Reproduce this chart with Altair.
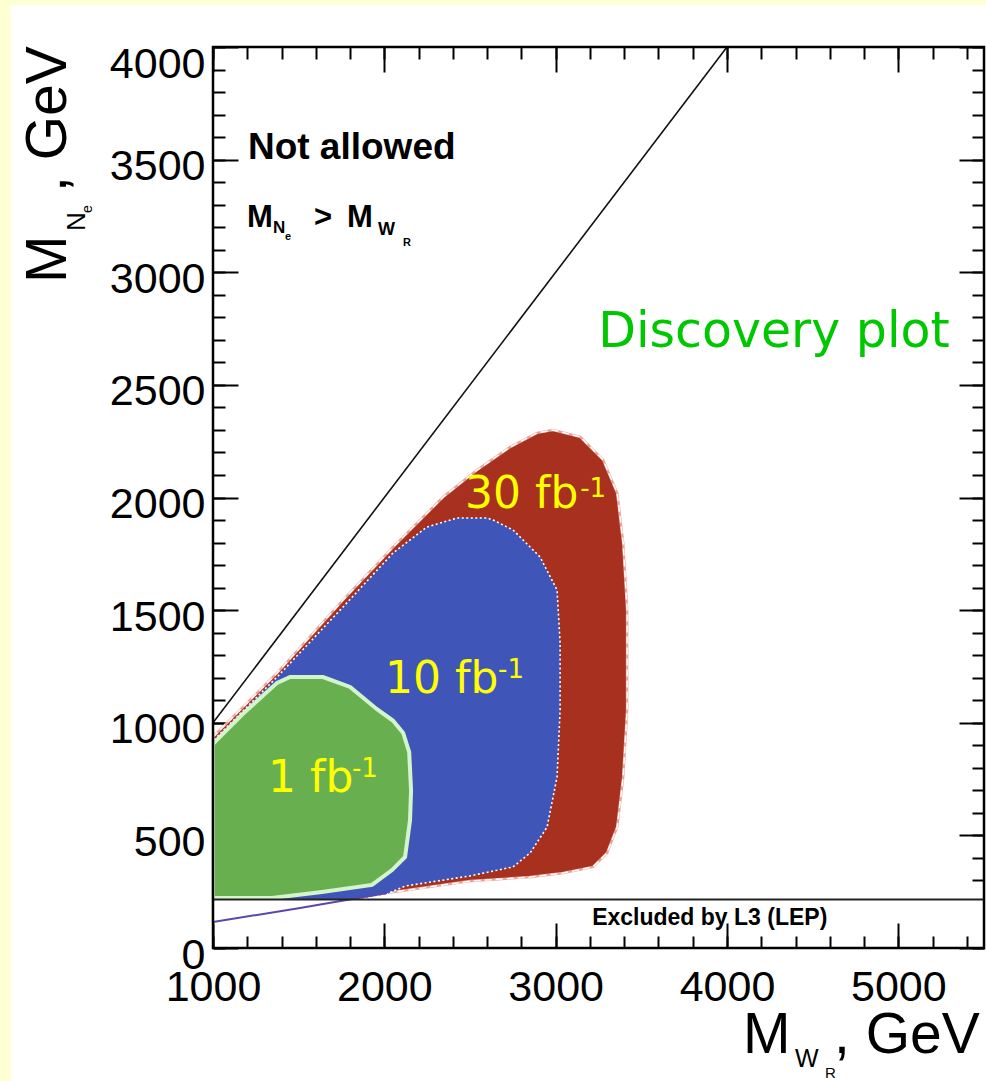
import altair as alt
import pandas as pd

# ---------------- values ----------------
X_DOMAIN = [1000, 5500]          # M_WR, GeV
Y_DOMAIN = [0, 4000]             # M_Ne, GeV

# 30 fb^-1 discovery contour
red_x = [1000, 1508, 2016, 2500, 2851, 3043, 3218, 3300, 3359, 3394, 3417, 3417, 3394,
         3359, 3277, 3143, 2985, 2892, 2734, 2541, 2343, 2051, 1759, 1374, 1023, 1000]
red_y = [115, 178, 244, 297, 315, 333, 360, 422, 537, 759, 1057, 1501, 1798,
         2020, 2167, 2269, 2300, 2287, 2224, 2122, 2002, 1780, 1545, 1221, 955, 937]

# 10 fb^-1 discovery contour
blue_x = [1000, 1508, 2016, 2121, 2500, 2751, 2851, 2950, 3008, 3026, 3026, 3008,
          2909, 2751, 2635, 2600, 2424, 2249, 2051, 1759, 1374, 1023, 1000]
blue_y = [107, 173, 240, 275, 320, 360, 422, 537, 759, 1057, 1354, 1590,
          1736, 1856, 1900, 1909, 1909, 1869, 1754, 1514, 1203, 937, 919]

# 1 fb^-1 discovery contour
green_x = [1000, 1344, 1636, 1928, 2045, 2121, 2150, 2156, 2145, 2110, 2050, 1957,
           1800, 1642, 1450, 1374, 1175, 1023, 1000]
green_y = [222, 222, 249, 280, 346, 404, 568, 700, 870, 955, 1010, 1060,
           1159, 1203, 1203, 1177, 1040, 924, 906]

# common lower edge of the contours inside the L3-excluded band
lower_x = [1000, 1508, 2016]
lower_y = [115, 178, 244]

# kinematic limit M_N = M_W
diag_x = [1000, 4000]
diag_y = [1000, 4000]

# L3 (LEP) exclusion
L3_LIMIT = 215

x_major = [1000, 2000, 3000, 4000, 5000]
x_minor = list(range(1000, 5500, 200))
y_major = list(range(0, 4001, 500))
y_minor = list(range(0, 4001, 100))

lumi_text = ["1 fb", "10 fb", "30 fb"]
lumi_x = [1321, 2004, 2471]
lumi_y = [693, 1132, 1954]
sup_text = ["-1", "-1", "-1"]
sup_x = [1811, 2664, 3143]
sup_y = [759, 1199, 2002]

# ---------------- helpers ----------------
LABEL_FONT = "Liberation Sans"
xs = alt.Scale(domain=X_DOMAIN, nice=False, zero=False)
ys = alt.Scale(domain=Y_DOMAIN, nice=False, zero=False)


def enc(xaxis=None, yaxis=None):
    return dict(x=alt.X("x:Q", scale=xs, axis=xaxis),
                y=alt.Y("y:Q", scale=ys, axis=yaxis))


def poly_df(xv, yv):
    return pd.DataFrame({"x": xv, "y": yv, "i": list(range(len(xv)))})


def tick_axis(orient, values, size, z=0):
    return alt.Axis(orient=orient, values=values, ticks=True, tickSize=size,
                    tickWidth=2, tickColor="black", offset=-size, labels=False,
                    domain=False, grid=False, title=None, zindex=z)


ax_x_lab = alt.Axis(orient="bottom", values=x_major, ticks=False, domain=False,
                    grid=False, title=None, format="d", labelFont=LABEL_FONT,
                    labelFontSize=43, labelColor="black", labelPadding=18,
                    labelFlush=False, labelOverlap=False)
ax_y_lab = alt.Axis(orient="left", values=y_major, ticks=False, domain=False,
                    grid=False, title=None, format="d", labelFont=LABEL_FONT,
                    labelFontSize=43, labelColor="black", labelPadding=8,
                    labelFlush=False, labelOverlap=False,
                    labelBaseline={"condition": {"test": "datum.value == 4000", "value": "top"},
                                   "value": "middle"},
                    labelOffset={"condition": {"test": "datum.value == 4000", "value": -4},
                                 "value": 7})

# ---------------- layers ----------------
strips = pd.DataFrame({"x1": [-213, -213], "x2": [-202, 773],
                       "y1": [-47, -47], "y2": [1034, -42]})
yellow = alt.Chart(strips).mark_rect(color="#FFFFD4").encode(
    x=alt.X("x1:Q", scale=None, axis=None), x2="x2:Q",
    y=alt.Y("y1:Q", scale=None, axis=None), y2="y2:Q")

red_fill = alt.Chart(poly_df(red_x, red_y)).mark_line(
    fill="#A8301F", stroke="#E8A49A", strokeWidth=2.5, interpolate="linear-closed"
).encode(order="i:Q", **enc(ax_x_lab, ax_y_lab))

red_dash = alt.Chart(poly_df(red_x, red_y)).mark_line(
    stroke="white", strokeWidth=1.5, strokeDash=[7, 4], interpolate="linear-closed"
).encode(order="i:Q", **enc(tick_axis("top", x_major, 25), tick_axis("right", y_major, 25)))

blue_fill = alt.Chart(poly_df(blue_x, blue_y)).mark_line(
    fill="#3F56B8", stroke="white", strokeWidth=1.6, strokeDash=[2, 2.5],
    interpolate="linear-closed"
).encode(order="i:Q", **enc(tick_axis("bottom", x_major, 25, 1), tick_axis("left", y_major, 25)))

green_fill = alt.Chart(poly_df(green_x, green_y)).mark_line(
    fill="#68B04F", stroke="#D4F4CC", strokeWidth=4, interpolate="linear-closed"
).encode(order="i:Q", **enc(tick_axis("bottom", x_minor, 12, 1), tick_axis("left", y_minor, 12)))

band = alt.Chart(pd.DataFrame({"x": [X_DOMAIN[0]], "x2": [X_DOMAIN[1]],
                               "y": [Y_DOMAIN[0]], "y2": [L3_LIMIT]})).mark_rect(
    color="white").encode(x2="x2:Q", y2="y2:Q", **enc())

lower = alt.Chart(pd.DataFrame({"x": lower_x, "y": lower_y})).mark_line(
    color="#5A48A8", strokeWidth=2).encode(**enc())

diag = alt.Chart(pd.DataFrame({"x": diag_x, "y": diag_y})).mark_line(
    color="#111111", strokeWidth=1.6
).encode(**enc(tick_axis("top", x_minor, 12), tick_axis("right", y_minor, 12)))

l3 = alt.Chart(pd.DataFrame({"x": [X_DOMAIN[0]], "x2": [X_DOMAIN[1]], "y": [L3_LIMIT]})).mark_rule(
    color="#222222", strokeWidth=2
).encode(x2="x2:Q", **enc())

notes = pd.DataFrame({
    "t": ["Not allowed", "M", "N", "e", ">", "M", "W", "R", "Excluded by L3 (LEP)"],
    "x": [1204, 1198, 1350, 1420, 1590, 1782, 1963, 2109, 3213],
    "y": [3503, 3201, 3175, 3144, 3201, 3201, 3166, 3117, 102],
    "fs": [37, 31, 17, 11, 31, 31, 18, 11, 23],
})
bold_notes = alt.Chart(notes).mark_text(
    align="left", baseline="alphabetic", font=LABEL_FONT, fontWeight="bold", color="black"
).encode(text="t:N", size=alt.Size("fs:Q", scale=None, legend=None), **enc())

lumi = alt.Chart(pd.DataFrame({"t": lumi_text, "x": lumi_x, "y": lumi_y})).mark_text(
    align="left", baseline="alphabetic", font="DejaVu Sans", fontSize=44, color="#FFFF00"
).encode(text="t:N", **enc())

lumi_sup = alt.Chart(pd.DataFrame({"t": sup_text, "x": sup_x, "y": sup_y})).mark_text(
    align="left", baseline="alphabetic", font="DejaVu Sans", fontSize=26, color="#FFFF00"
).encode(text="t:N", **enc())

disc = alt.Chart(pd.DataFrame({"t": ["Discovery plot"], "x": [3248], "y": [2668]})).mark_text(
    align="left", baseline="alphabetic", font="DejaVu Sans", fontSize=49, color="#00C800"
).encode(text="t:N", **enc())

xt = pd.DataFrame({"t": ["M", "W", "R", ", GeV"], "px": [530, 582, 612, 621],
                   "py": [1006, 1020, 1031, 1006], "fs": [57, 25, 15, 57]})
x_title = alt.Chart(xt).mark_text(
    align="left", baseline="alphabetic", font=LABEL_FONT, color="black"
).encode(x=alt.X("px:Q", scale=None, axis=None), y=alt.Y("py:Q", scale=None, axis=None),
         text="t:N", size=alt.Size("fs:Q", scale=None, legend=None))

yt = pd.DataFrame({"t": ["M", "N", "e", ", GeV"], "px": [-147, -128, -121, -147],
                   "py": [236, 184, 166, 145], "fs": [57, 26, 14, 57]})
y_title = alt.Chart(yt).mark_text(
    align="left", baseline="alphabetic", font=LABEL_FONT, color="black", angle=270
).encode(x=alt.X("px:Q", scale=None, axis=None), y=alt.Y("py:Q", scale=None, axis=None),
         text="t:N", size=alt.Size("fs:Q", scale=None, legend=None))

frame = alt.Chart(pd.DataFrame({"x": [X_DOMAIN[0]], "x2": [X_DOMAIN[1]],
                                "y": [Y_DOMAIN[0]], "y2": [Y_DOMAIN[1]]})).mark_rect(
    fill="transparent", stroke="black", strokeWidth=2.5
).encode(x2="x2:Q", y2="y2:Q", **enc())

chart = alt.layer(
    yellow, red_fill, red_dash, blue_fill, green_fill, band, lower, diag, l3,
    bold_notes, lumi, lumi_sup, disc, x_title, y_title, frame
).resolve_axis(x="independent", y="independent").properties(
    width=771, height=901,
    padding={"left": 213, "top": 47, "right": 2, "bottom": 133},
    autosize=alt.AutoSizeParams(type="none"),
    background="white",
).configure_view(stroke=None)

chart.save("out.html", embed_options={"renderer": "svg", "actions": False})
